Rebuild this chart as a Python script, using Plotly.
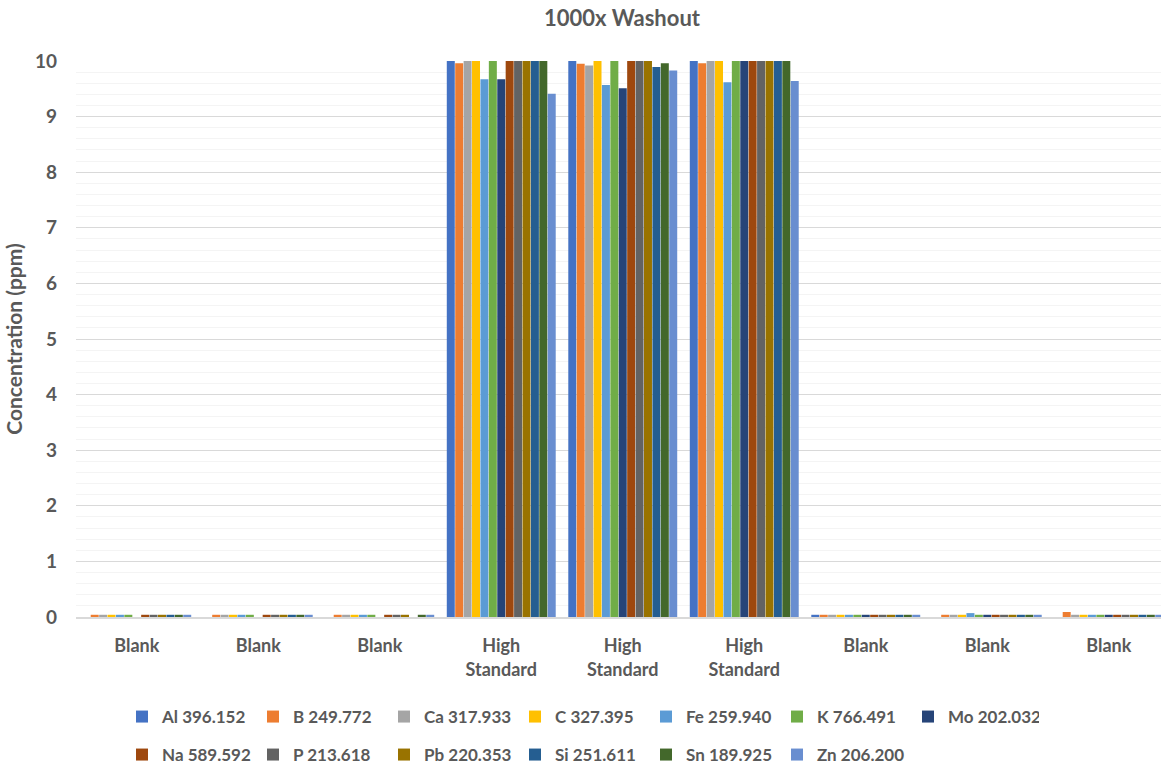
import plotly.graph_objects as go

categories = ["Blank", "Blank", "Blank", "High<br>Standard", "High<br>Standard",
              "High<br>Standard", "Blank", "Blank", "Blank"]

series_names = ["Al 396.152", "B 249.772", "Ca 317.933", "C 327.395", "Fe 259.940",
                "K 766.491", "Mo 202.032", "Na 589.592", "P 213.618", "Pb 220.353",
                "Si 251.611", "Sn 189.925", "Zn 206.200"]

colors = ["#4472C4", "#ED7D31", "#A5A5A5", "#FFC000", "#5B9BD5", "#70AD47", "#264478",
          "#9E480E", "#636363", "#997300", "#255E91", "#43682B", "#698ED0"]

# one list per element, values across the 9 samples (High Standard reads clip at 10)
al = [0.0, 0.0, 0.0, 10.3, 10.2, 10.4, 0.04, 0.0, 0.0]
b = [0.04, 0.04, 0.04, 9.96, 9.95, 9.96, 0.04, 0.04, 0.09]
ca = [0.04, 0.04, 0.04, 10.2, 9.92, 10.1, 0.04, 0.04, 0.04]
c = [0.04, 0.04, 0.04, 10.3, 10.2, 10.3, 0.04, 0.04, 0.04]
fe = [0.04, 0.04, 0.04, 9.67, 9.57, 9.62, 0.04, 0.07, 0.04]
k = [0.04, 0.04, 0.04, 10.3, 10.2, 10.3, 0.04, 0.04, 0.04]
mo = [0.0, 0.0, 0.0, 9.67, 9.51, 10.1, 0.04, 0.04, 0.04]
na = [0.04, 0.04, 0.04, 10.4, 10.3, 10.4, 0.04, 0.04, 0.04]
p = [0.04, 0.04, 0.04, 10.2, 10.1, 10.2, 0.04, 0.04, 0.04]
pb = [0.04, 0.04, 0.04, 10.2, 10.1, 10.2, 0.04, 0.04, 0.04]
si = [0.04, 0.04, 0.0, 10.1, 9.89, 10.1, 0.04, 0.04, 0.04]
sn = [0.04, 0.04, 0.04, 10.1, 9.96, 10.1, 0.04, 0.04, 0.04]
zn = [0.04, 0.04, 0.04, 9.41, 9.83, 9.64, 0.04, 0.04, 0.04]

values = [al, b, ca, c, fe, k, mo, na, p, pb, si, sn, zn]

FONT = "Lato, Roboto, Arial"
GREY = "#595959"

W, H = 1161, 764

fig = go.Figure()
for i, (name, vals, col) in enumerate(zip(series_names, values, colors)):
    fig.add_trace(go.Bar(
        x=list(range(len(categories))),
        y=vals,
        name=name,
        marker=dict(color=col, line=dict(width=0)),
        legend="legend" if i < 7 else "legend2",
    ))

legend_style = dict(
    orientation="h",
    xref="container", yref="container",
    x=122 / W, xanchor="left", yanchor="middle",
    font=dict(family=FONT, size=17, color=GREY, weight="bold"),
    entrywidth=86, entrywidthmode="pixels",
    itemwidth=30, traceorder="normal",
    bgcolor="rgba(0,0,0,0)",
)

fig.update_layout(
    width=W, height=H,
    margin=dict(l=76, r=0, t=61, b=147),
    paper_bgcolor="white", plot_bgcolor="white",
    barmode="group", bargap=0.1, bargroupgap=0.05,
    title=dict(text="1000x Washout", x=622 / W, xref="container", xanchor="center",
               yref="container", y=1 - 18 / H, yanchor="middle",
               font=dict(family=FONT, size=22, color=GREY, weight="bold")),
    font=dict(family=FONT, color=GREY),
    legend=dict(legend_style, y=1 - 717 / H),
    legend2=dict(legend_style, y=1 - 755 / H),
)

fig.update_xaxes(
    tickmode="array", tickvals=list(range(len(categories))), ticktext=categories,
    range=[-0.5, 8.43], showgrid=False, zeroline=False,
    showline=True, linecolor="#D9D9D9", linewidth=1.5,
    tickfont=dict(family=FONT, size=18, color=GREY, weight="bold"),
    ticks="", ticklabelstandoff=12,
)
fig.update_yaxes(
    range=[0, 10], dtick=1, showgrid=True, gridcolor="#D9D9D9", gridwidth=1,
    minor=dict(dtick=0.2, showgrid=True, gridcolor="#F4F4F4", gridwidth=1),
    zeroline=False,
    tickfont=dict(family=FONT, size=19, color=GREY, weight="bold"),
    title=dict(text="Concentration (ppm)", standoff=6,
               font=dict(family=FONT, size=21, color=GREY, weight="bold")),
    ticklabelstandoff=18,
)

# drop the browser's default 8px body margin so the figure fills the window
fig.write_html("out.html", config={"displayModeBar": False},
               post_script="document.body.style.margin = '0';")
